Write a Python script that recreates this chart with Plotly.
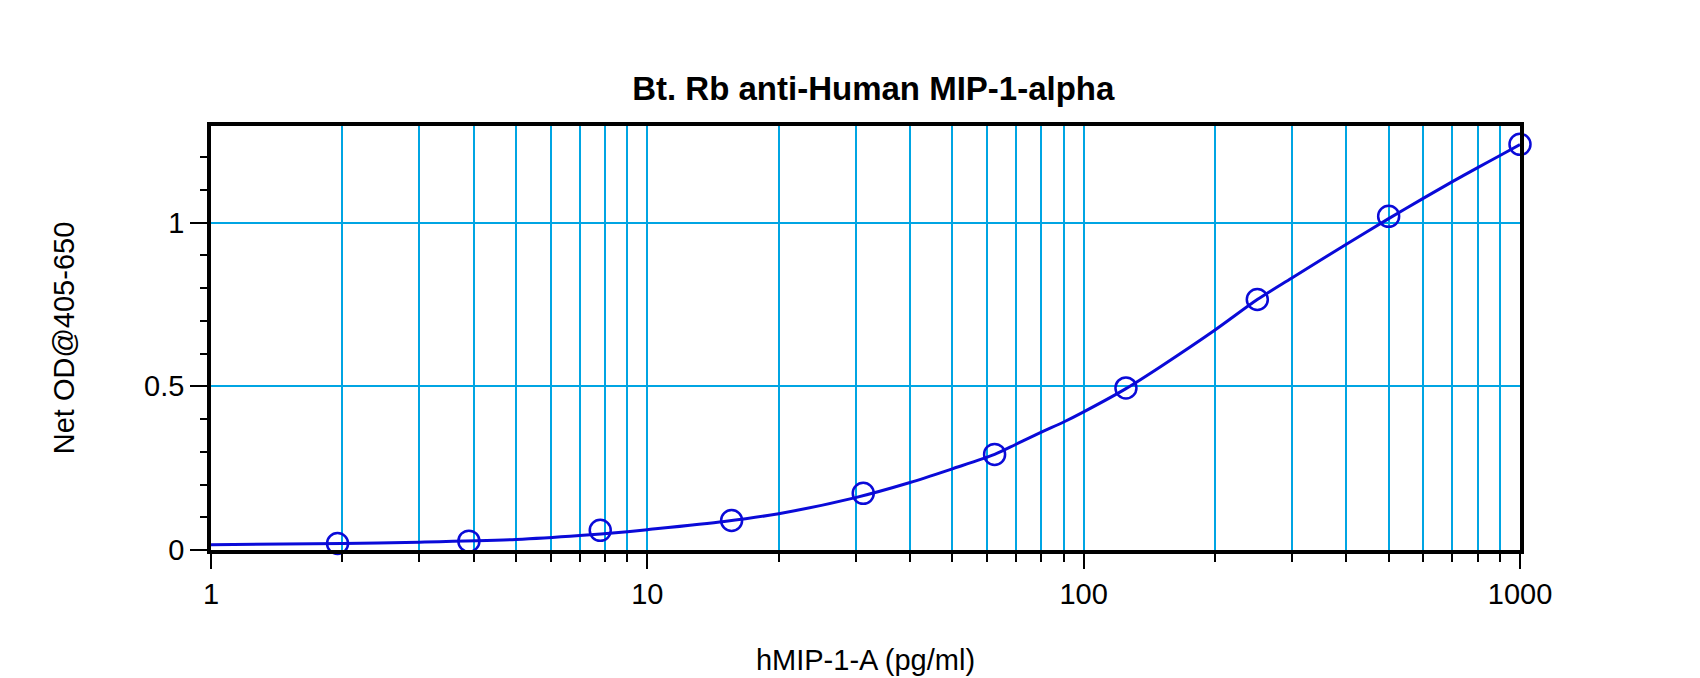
import plotly.graph_objects as go

# standard points (pg/ml) and net OD
conc = [1.95, 3.9, 7.8, 15.6, 31.25, 62.5, 125, 250, 500, 1000]
od = [0.020, 0.027, 0.060, 0.090, 0.173, 0.292, 0.495, 0.765, 1.019, 1.239]

# fitted curve
curve_x = [1, 2, 3, 5, 7, 9, 10, 15, 20, 30, 40, 50, 62.5, 70, 80, 90, 100,
           125, 150, 200, 250, 300, 400, 500, 600, 700, 800, 900, 1000]
curve_y = [0.016, 0.020, 0.024, 0.032, 0.044, 0.056, 0.062, 0.087, 0.111,
           0.160, 0.206, 0.248, 0.292, 0.323, 0.360, 0.391, 0.422,
           0.493, 0.560, 0.672, 0.765, 0.831, 0.934, 1.012, 1.074, 1.125,
           1.168, 1.205, 1.238]

x_ticks = [1, 10, 100, 1000]
x_minor = [2, 3, 4, 5, 6, 7, 8, 9, 20, 30, 40, 50, 60, 70, 80, 90,
           200, 300, 400, 500, 600, 700, 800, 900]
y_ticks = [0, 0.5, 1]

BLUE = '#0a0ad8'
GRID = '#00a5e3'
FONT = 'Liberation Sans, Arial, sans-serif'

fig = go.Figure()
fig.add_trace(go.Scatter(
    x=curve_x, y=curve_y, mode='lines',
    line=dict(color=BLUE, width=3, shape='spline', smoothing=0.8),
    hoverinfo='skip', showlegend=False,
))
fig.add_trace(go.Scatter(
    x=conc, y=od, mode='markers',
    marker=dict(symbol='circle-open', size=21, color=BLUE,
                line=dict(color=BLUE, width=2.5)),
    cliponaxis=False, showlegend=False,
))

fig.update_layout(
    width=1700, height=678,
    paper_bgcolor='white', plot_bgcolor='white',
    margin=dict(l=203, r=188, t=118, b=136),
    font=dict(family=FONT, size=29, color='black'),
    title=dict(text='<b>Bt. Rb anti-Human MIP-1-alpha</b>',
               x=0.509, xanchor='center', y=1 - 80 / 678, yanchor='middle',
               font=dict(family=FONT, size=33, color='black')),
)
fig.update_xaxes(
    type='log', range=[0, 3], autorange=False,
    tickmode='array', tickvals=x_ticks, ticktext=[str(v) for v in x_ticks],
    ticks='outside', ticklen=15, tickwidth=2, tickcolor='black',
    showgrid=True, gridcolor=GRID, gridwidth=1.5,
    minor=dict(tickmode='array', tickvals=x_minor, ticks='outside',
               ticklen=8, tickwidth=2, tickcolor='black',
               showgrid=True, gridcolor=GRID, gridwidth=1.5),
    showline=True, linewidth=3.5, linecolor='black', mirror=True,
    zeroline=False,
    title=dict(text='hMIP-1-A (pg/ml)', standoff=42,
               font=dict(family=FONT, size=29)),
    tickfont=dict(family=FONT, size=29),
)
fig.update_yaxes(
    range=[0, 1.295], autorange=False,
    tickmode='array', tickvals=y_ticks, ticktext=['0', '0.5', '1'],
    ticks='outside', ticklen=17, tickwidth=2, tickcolor='black',
    showgrid=True, gridcolor=GRID, gridwidth=1.5,
    minor=dict(dtick=0.1, ticks='outside', ticklen=7, tickwidth=2,
               tickcolor='black', showgrid=False),
    showline=True, linewidth=3.5, linecolor='black', mirror=True,
    zeroline=False,
    title=dict(text='Net OD@405-650', standoff=62,
               font=dict(family=FONT, size=29)),
    tickfont=dict(family=FONT, size=29),
)

fig.write_html('out.html')
